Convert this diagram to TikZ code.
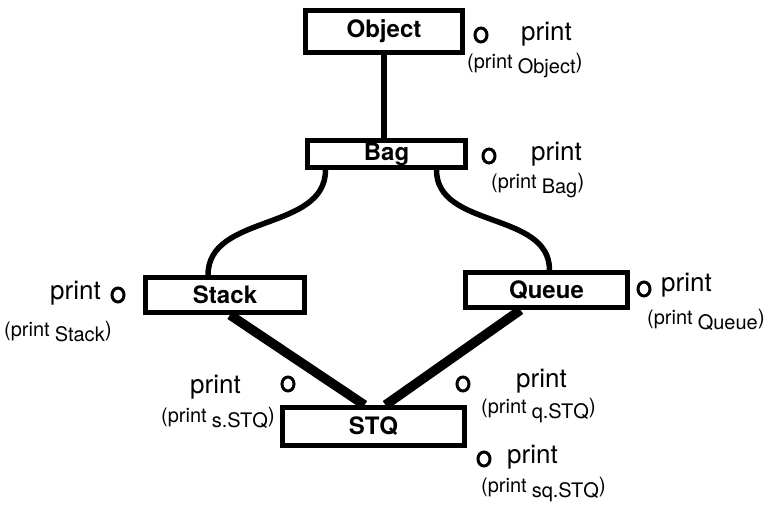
\documentclass[tikz,border=0pt]{standalone}
\usepackage{fontspec}
\setmainfont{TeX Gyre Heros}
\usetikzlibrary{shapes.geometric}
\tikzset{
  classbox/.style={draw,line width=5pt,inner sep=0pt,font=\fontsize{24}{24}\selectfont\bfseries},
  methdot/.style={draw,ellipse,line width=3pt,minimum width=12pt,minimum height=14pt,inner sep=0pt},
  methname/.style={font=\fontsize{26}{26}\selectfont,inner sep=0pt},
  methcall/.style={inner sep=0pt,anchor=base west},
  isa/.style={line width=5.5pt},
  joinlink/.style={line width=9.5pt}
}
\newcommand\callof[1]{{\fontsize{20}{20}\selectfont(print}\hspace{5pt}\raisebox{-5pt}{\fontsize{20}{20}\selectfont #1}{\fontsize{21}{21}\selectfont)}}

\begin{document}
\begin{tikzpicture}[x=1pt,y=-1pt]
  \useasboundingbox (0,0) rectangle (772,510);

  % classes
  \node[classbox,minimum width=157pt,minimum height=42pt] (obj) at (384,31.5) {Object};
  \node[classbox,minimum width=158pt,minimum height=27pt] (bag) at (386.5,154) {Bag};
  \node[classbox,minimum width=159pt,minimum height=35pt] (stack) at (225,295) {Stack};
  \node[classbox,minimum width=162pt,minimum height=35pt] (queue) at (546.5,290) {Queue};
  \node[classbox,minimum width=182pt,minimum height=38pt] (stq) at (373.5,426.5) {STQ};

  % inheritance links
  \draw[isa] (obj.south) -- (obj.south |- bag.north);
  \draw[isa] ([xshift=-61pt]bag.south) to[out=-90,in=90] ([xshift=-17pt]stack.north);
  \draw[isa] ([xshift=50pt]bag.south) to[out=-90,in=90] ([xshift=3pt]queue.north);
  \draw[joinlink] ([xshift=5pt]stack.south) -- ([xshift=-9pt]stq.north);
  \draw[joinlink] ([xshift=-26pt]queue.south) -- ([xshift=12pt]stq.north);

  % print methods
  \node[methdot] (d-obj) at (481,35) {};
  \node[methname,anchor=west] (p-obj) at (521,34) {print};
  \node[methcall] (c-obj) at (467,69) {\callof{Object}};

  \node[methdot] (d-bag) at (489,156) {};
  \node[methname,anchor=west] (p-bag) at (531,154) {print};
  \node[methcall] (c-bag) at (491,189) {\callof{Bag}};

  \node[methdot] (d-stack) at (118,295) {};
  \node[methname,anchor=east] (p-stack) at (101,293) {print};
  \node[methcall] (c-stack) at (4,337) {\callof{Stack}};

  \node[methdot] (d-queue) at (644,289) {};
  \node[methname,anchor=west] (p-queue) at (661,285) {print};
  \node[methcall] (c-queue) at (647,325) {\callof{Queue}};

  \node[methdot] (d-s) at (288,384) {};
  \node[methname,anchor=east] (p-s) at (241,387) {print};
  \node[methcall] (c-s) at (161,423) {\callof{s.STQ}};

  \node[methdot] (d-q) at (463,384) {};
  \node[methname,anchor=west] (p-q) at (516,381) {print};
  \node[methcall] (c-q) at (481,414) {\callof{q.STQ}};

  \node[methdot] (d-sq) at (484,459) {};
  \node[methname,anchor=west] (p-sq) at (507,457) {print};
  \node[methcall] (c-sq) at (481,493) {\callof{sq.STQ}};
\end{tikzpicture}
\end{document}
